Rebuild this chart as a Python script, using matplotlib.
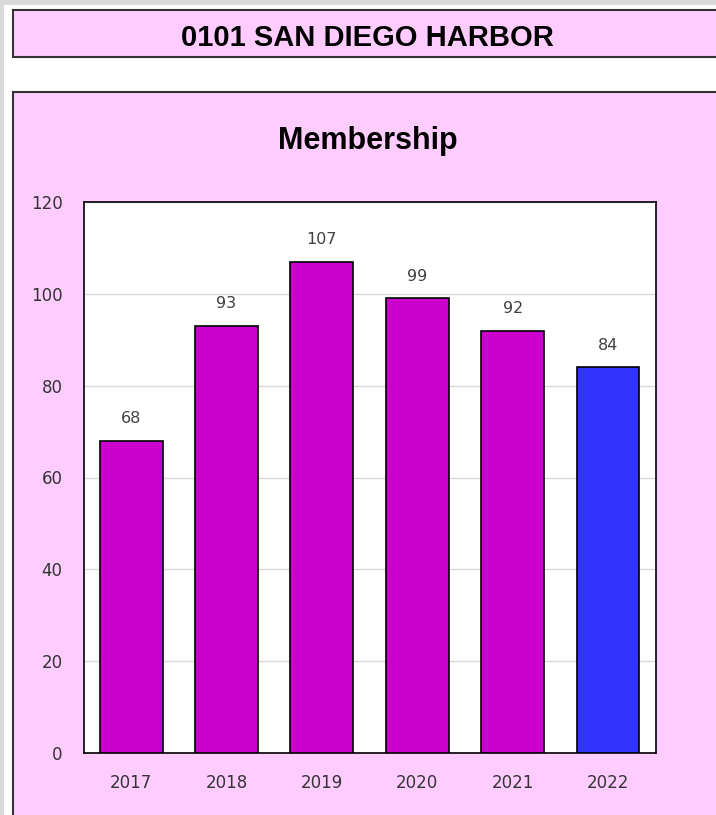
import matplotlib
matplotlib.use("Agg")
import matplotlib.pyplot as plt
from matplotlib.patches import Rectangle

# membership counts per year
years = ["2017", "2018", "2019", "2020", "2021", "2022"]
members = [68, 93, 107, 99, 92, 84]
bar_colors = ["#cc00cc", "#cc00cc", "#cc00cc", "#cc00cc", "#cc00cc", "#3333ff"]
y_ticks = [0, 20, 40, 60, 80, 100, 120]

header = "0101 SAN DIEGO HARBOR"
chart_title = "Membership"

W, H = 716, 815
pink = "#ffccff"


def fx(px):
    return px / W


def fy(py):
    return 1 - py / H


fig = plt.figure(figsize=(W / 100, H / 100), dpi=100, facecolor="white")

# gray window edges
fig.patches.append(Rectangle((0, fy(5)), 1, 5 / H, transform=fig.transFigure,
                             facecolor="#d9d9d9", edgecolor="none", zorder=-2))
fig.patches.append(Rectangle((0, 0), 4 / W, 1, transform=fig.transFigure,
                             facecolor="#d9d9d9", edgecolor="none", zorder=-2))

# header box
fig.patches.append(Rectangle((fx(13), fy(57)), fx(720 - 13), 47.5 / H,
                             transform=fig.transFigure, facecolor=pink,
                             edgecolor="#333333", linewidth=1.5, zorder=-1))
fig.text(fx(367), fy(37.5), header, ha="center", va="center", fontsize=21,
         fontweight="bold", family="Liberation Sans", color="black")

# chart box
fig.patches.append(Rectangle((fx(13), fy(830)), fx(720 - 13), 738 / H,
                             transform=fig.transFigure, facecolor=pink,
                             edgecolor="#333333", linewidth=1.5, zorder=-1))

ax = fig.add_axes([fx(83.5), fy(753), fx(655.7 - 83.5), (753 - 202) / H])
ax.set_zorder(2)
ax.set_facecolor("white")

x = range(len(years))
ax.bar(x, members, width=0.66, color=bar_colors, edgecolor="black",
       linewidth=1.2, zorder=3)

for xi, v in zip(x, members):
    ax.annotate(str(v), (xi, v), xytext=(0, 16), textcoords="offset points",
                ha="center", va="center", fontsize=11.5, color="#404040")

ax.set_xlim(-0.5, len(years) - 0.5)
ax.set_ylim(0, 120)
ax.set_yticks(y_ticks)
ax.set_xticks(list(x))
ax.set_xticklabels(years)
ax.tick_params(axis="both", length=0, labelsize=12, labelcolor="#333333")
ax.tick_params(axis="y", pad=15)
ax.tick_params(axis="x", pad=15)
ax.grid(axis="y", color="#d9d9d9", linewidth=1, zorder=0)
for s in ax.spines.values():
    s.set_color("black")
    s.set_linewidth(1.2)

fig.text(fx(368), fy(141), chart_title, ha="center", va="center",
         fontsize=22, fontweight="bold", family="Liberation Sans", color="black")

fig.savefig("out.png", dpi=100, facecolor="white")
